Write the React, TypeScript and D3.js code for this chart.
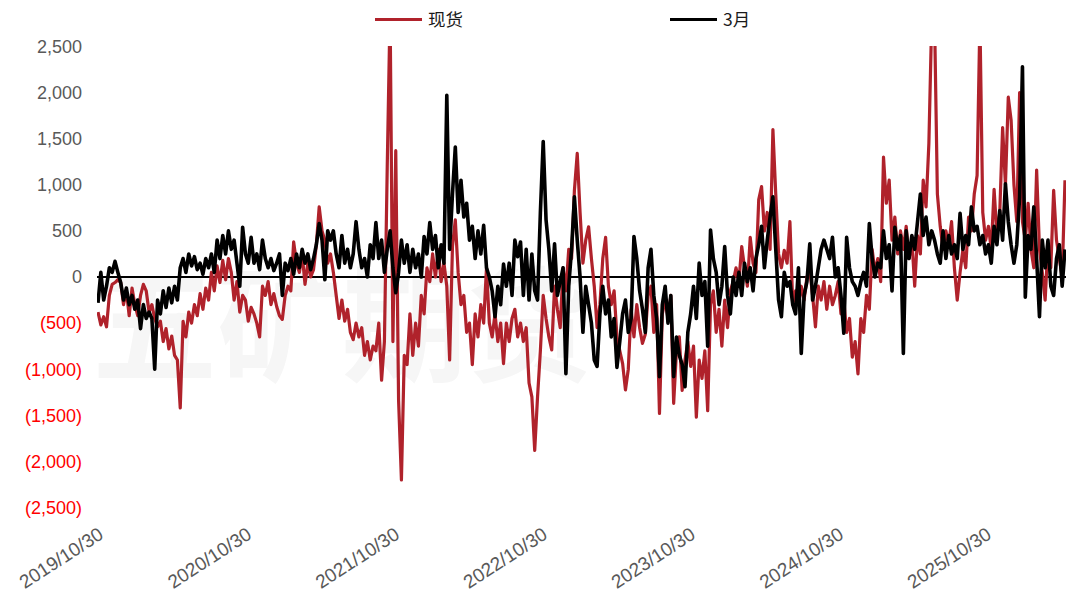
import React from 'react';
import * as d3 from 'd3';

// weekly samples, starting 2019/10/30
const startDate = new Date(2019, 9, 30);
const stepDays = 7;

const spotY1 = [-380, -520, -430, -540, -200, -80, -60, -30, -60, -300, -150, -420, -120, -300, -420, -200, -80, -150, -380, -300, -450, -540, -480, -700, -560, -780, -640, -850, -900, -1420, -480, -650, -380, -500, -300, -420, -180, -350, -120, -250, 50, -150, 120, -60, 180, -30, 200, 50, -250, -50, -380, -200];
const spotY2 = [-250, -480, -330, -400, -500, -650, -100, -200, -50, -300, -180, -320, -420, -460, -200, -100, -150, 380, 150, 50, 250, -80, 150, 0, 80, 350, 760, 500, 400, 150, 250, 50, -200, -450, -250, -480, -350, -600, -680, -500, -650, -550, -850, -700, -900, -750, -800, -500, -1120, -700, 1200, 2900];
const spotY3 = [-700, 1370, -1340, -2200, -850, -950, -400, -850, -500, -750, -200, -400, 100, -50, 250, 0, 300, -50, 150, -100, -900, 330, 620, 50, -300, -200, -600, -500, -950, -400, -650, -300, -500, 100, -500, -650, -400, -700, -500, -940, -500, -700, -450, -350, -650, -500, -700, -550, -1150, -1300, -1880, -1300];
const spotY4 = [-800, -200, -450, -650, -790, -100, -350, -550, 100, -150, 300, 200, 940, 1340, 700, 150, 400, 545, 200, -100, -550, -300, 200, 430, -100, -300, -150, -650, -800, -940, -1225, -1000, -350, -650, -300, -550, -720, -620, -200, -100, -600, -300, -1480, -400, -250, -450, -200, -1370, -800, -650, -1230, -900];
const spotY5 = [-700, -970, -750, -1520, -900, -1100, -800, -1450, -300, -150, -600, -350, -750, -250, -550, -150, -50, 100, -50, 330, 100, -100, 430, 150, 50, 840, 980, 500, 700, 300, 1600, 900, 250, 100, 290, 150, 600, -300, -150, -300, -100, -250, 0, 70, -200, -540, -100, -250, -50, -350, -100, -300];
const spotY6 = [-200, -50, -400, -250, -600, -450, -870, -700, -1050, -450, -600, -200, -350, 300, 50, 200, -50, 1300, 800, 1050, 400, 650, 250, 500, 300, 550, 200, 400, -100, 450, 250, 1050, 760, 1450, 2800, 2800, 900, 550, 300, 500, 350, 600, 100, -250, 50, 300, 100, 650, 500, 900, 1100, 2800];
const spotY7 = [700, 400, 550, 300, 950, 450, 700, 1620, 1000, 1950, 1700, 1000, 600, 2000, 600, 400, 800, 300, 100, 1160, 300, 50, -250, 350, 100, 940, 400, 200, 0, 1050];

const marY1 = [-280, 50, -250, -100, 100, 50, 170, 50, -60, -250, -120, -300, -200, -350, -250, -560, -300, -450, -380, -450, -1000, -250, -400, -150, -330, -120, -280, -100, -250, 100, 200, 50, 250, 120, 220, 80, 150, 30, 200, 100, 250, 50, 400, 200, 450, 250, 500, 300, 400, 150, -100, 540];
const marY2 = [250, 150, 430, 150, 250, 80, 400, 200, 100, 200, 70, 150, 250, -200, 150, 70, 200, 30, 250, 100, 300, 150, 250, 80, 200, 350, 580, 400, -30, 500, 400, 500, 250, 100, 450, 150, 300, 100, 250, 600, 300, 100, 200, 0, 350, 200, 590, 200, 400, 50, 300, 500];
const marY3 = [100, -170, 50, 400, 150, 350, 50, 300, 100, 250, 0, 440, 250, 590, 300, 450, 100, 350, 150, 1970, 300, 900, 1410, 700, 1050, 650, 800, 400, 550, 200, 500, 250, 560, 100, 0, -150, -430, -100, -300, 140, -100, 150, -200, 400, 220, 380, -200, 300, -250, 250, -150, -250];
const marY4 = [700, 1470, 620, 300, -150, 360, -200, -50, 100, -1050, -100, 300, 870, 400, 0, -600, -100, -300, -500, -900, -970, -400, -100, -400, -250, -650, -450, -980, -700, -400, -250, -600, -450, 440, 200, -150, -350, -600, 100, 300, -200, -450, -1080, -300, -100, -500, -200, -1080, -650, -850, -950, -1190];
const marY5 = [-600, -400, -100, -450, 150, -200, -50, -750, 510, 200, 50, -300, -100, 330, -200, -400, 0, -200, 50, -200, 150, -50, 100, -150, 200, 350, 550, 100, 400, 650, 870, 300, -250, -430, 50, -100, -50, -300, -400, 100, -830, -200, -50, 360, -250, -100, 100, 300, 400, 300, 200, 430];
const marY6 = [0, 100, -200, -610, 430, 100, -50, -100, -200, -50, 50, -100, 580, 200, 0, 150, 100, 500, 200, 350, -150, 540, 300, 450, -830, 500, 200, 450, 300, 600, 900, 450, 650, 350, 500, 400, 250, 150, 500, 200, 450, 250, 350, 200, 690, 300, 450, 350, 760, 500, 550, 350];
const marY7 = [450, 250, 350, 150, 550, 350, 720, 400, 1010, 600, 350, 150, 350, 870, 2280, -220, 450, 300, 760, 200, -430, 400, 100, 400, -100, -200, 200, 350, -100, 300];

const tickYears = [2019, 2020, 2021, 2022, 2023, 2024, 2025];
const yTicks = [2500, 2000, 1500, 1000, 500, 0, -500, -1000, -1500, -2000, -2500];

const seriesNames = ['现货', '3月'];
const seriesColors = ['#b0222b', '#000000'];
const seriesWidths = [3.2, 3.6];

const spot = [...spotY1, ...spotY2, ...spotY3, ...spotY4, ...spotY5, ...spotY6, ...spotY7];
const march = [...marY1, ...marY2, ...marY3, ...marY4, ...marY5, ...marY6, ...marY7];

const toPoints = (vals: number[]) =>
  vals.map((v, i) => ({ date: d3.timeDay.offset(startDate, i * stepDays), value: v }));

export default function App() {
  const width = 1066;
  const height = 595;
  const left = 97;
  const right = 1066;
  const top = 46.5;
  const bottom = 507.5;

  const x = d3
    .scaleTime()
    .domain([new Date(2019, 9, 30), new Date(2025, 9, 30)])
    .range([98, 986]);
  const y = d3.scaleLinear().domain([-2500, 2500]).range([bottom, top]);

  const line = d3
    .line<{ date: Date; value: number }>()
    .x(d => x(d.date))
    .y(d => y(d.value));

  const fmt = d3.format(',');
  const labelFor = (v: number) => (v < 0 ? `(${fmt(-v)})` : fmt(v));
  const dateFmt = d3.timeFormat('%Y/%m/%d');

  const data = [toPoints(spot), toPoints(march)];
  const font = '"Liberation Sans", Arial, "Noto Sans CJK SC", sans-serif';

  return (
    <svg
      width={width}
      height={height}
      style={{ position: 'absolute', left: 0, top: 0, background: '#fff' }}
      fontFamily={font}
    >
      <defs>
        <clipPath id="plot">
          <rect x={left} y={top - 0.5} width={right - left} height={bottom - top + 1} />
        </clipPath>
      </defs>

      {/* faint watermark */}
      <text x={92} y={372} fontSize={125} fill="#f6f6f6" fontFamily='"Noto Sans CJK SC", sans-serif' fontWeight="bold">
        五矿期货
      </text>

      {/* legend */}
      {seriesNames.map((name, i) => {
        const lx = i === 0 ? 375 : 670;
        return (
          <g key={name}>
            <line x1={lx} x2={lx + 47} y1={19.5} y2={19.5} stroke={seriesColors[i]} strokeWidth={3} />
            <text
              x={lx + 53}
              y={19.5}
              dy="0.35em"
              fontSize={17.5}
              fill="#1a1a1a"
              fontFamily='"Noto Sans CJK SC", sans-serif'
            >
              {name}
            </text>
          </g>
        );
      })}

      {/* y axis labels */}
      {yTicks.map(t => (
        <text
          key={t}
          x={82}
          y={y(t)}
          dy="0.35em"
          textAnchor="end"
          fontSize={18}
          fill={t < 0 ? '#ff0000' : '#595959'}
        >
          {labelFor(t)}
        </text>
      ))}

      {/* x axis labels */}
      {tickYears.map(yr => {
        const d = new Date(yr, 9, 30);
        const tx = x(d) + 3;
        return (
          <text
            key={yr}
            transform={`translate(${tx},532) rotate(-33)`}
            dy="0.35em"
            textAnchor="end"
            fontSize={19}
            fill="#595959"
          >
            {dateFmt(d)}
          </text>
        );
      })}

      {/* zero line */}
      <line x1={left} x2={right} y1={y(0)} y2={y(0)} stroke="#000" strokeWidth={2} />

      <g clipPath="url(#plot)">
        {data.map((pts, i) => (
          <path
            key={i}
            d={line(pts) || ''}
            fill="none"
            stroke={seriesColors[i]}
            strokeWidth={seriesWidths[i]}
            strokeLinejoin="round"
          />
        ))}
      </g>
    </svg>
  );
}
